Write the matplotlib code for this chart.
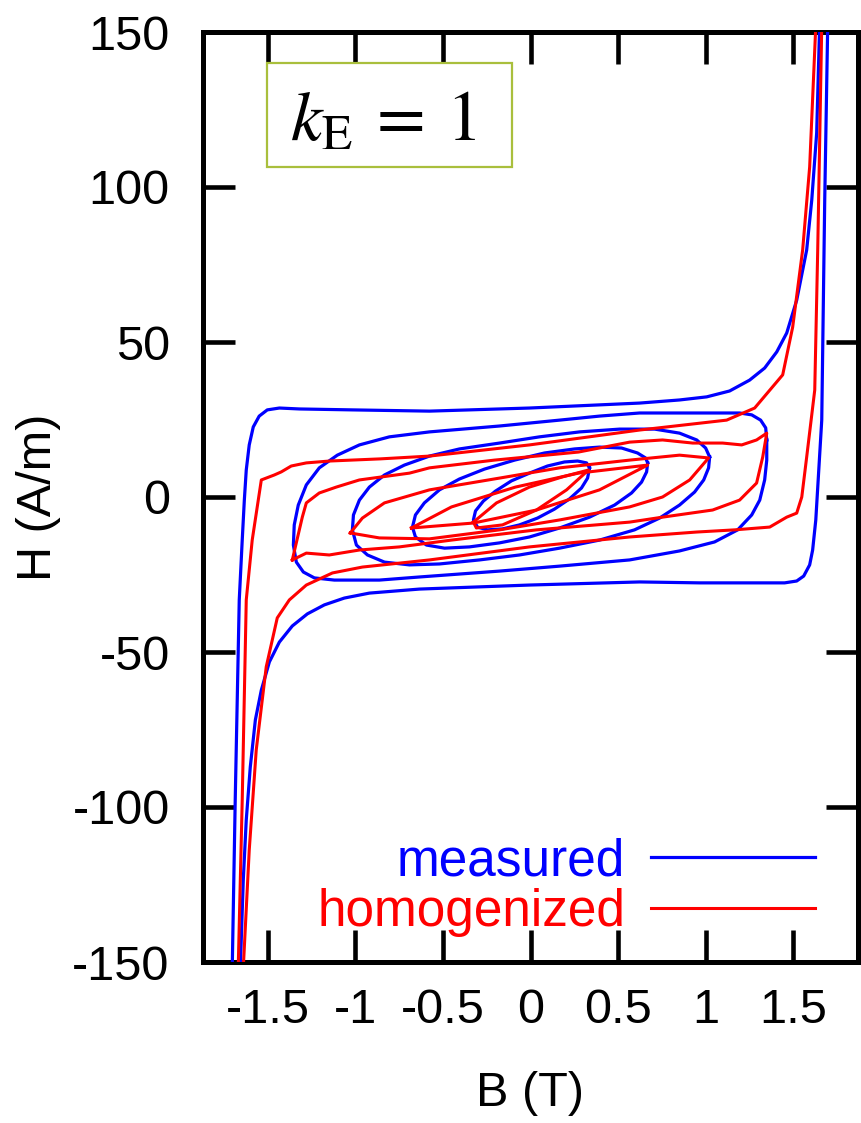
import matplotlib
matplotlib.use("Agg")
import matplotlib.pyplot as plt
from matplotlib.patches import Rectangle

plt.rcParams['font.family'] = ['Liberation Sans', 'DejaVu Sans']
plt.rcParams['mathtext.fontset'] = 'stix'
plt.rcParams['axes.unicode_minus'] = False

# ---------------- data (B in T, H in A/m) ----------------
# measured (blue) loops
meas_major_B = [-1.703, -1.686, -1.663, -1.646, -1.634, -1.623, -1.606, -1.583, -1.549, -1.503, -1.434,
                -1.320, -1.017, -0.577, -0.006, 0.623, 0.851, 1.006, 1.137, 1.251, 1.337, 1.406,
                1.463, 1.520, 1.577, 1.606, 1.634, 1.651,
                1.697, 1.680, 1.663, 1.646, 1.629, 1.611, 1.594, 1.560, 1.520, 1.451, 1.309,
                0.966, 0.623, -0.006, -0.634, -0.920, -1.063, -1.177, -1.274, -1.360, -1.434,
                -1.491, -1.537, -1.571, -1.600, -1.623, -1.640, -1.657]
meas_major_H = [-152.0, -97.7, -33.2, -13.9, -1.0, 8.7, 16.8, 22.6, 26.1, 28.1, 28.7,
                28.4, 28.1, 27.7, 28.7, 30.3, 31.3, 32.3, 34.2, 37.7, 41.6, 46.8,
                52.9, 63.5, 79.7, 95.8, 117.4, 152.0,
                152.0, 95.8, 24.8, 8.7, -7.4, -17.1, -21.9, -25.5, -27.1, -27.7, -27.7,
                -27.7, -27.4, -28.4, -29.7, -31.0, -32.6, -34.8, -37.7, -41.6, -46.8,
                -53.2, -62.3, -71.9, -87.1, -104.2, -123.5, -152.0]

meas_l2_B = [1.349, 1.343, 1.314, 1.263, 1.194, 0.966, 0.623, 0.394, 0.166, -0.177, -0.577,
             -0.806, -0.977, -1.103, -1.206, -1.280, -1.326, -1.349, -1.354, -1.337, -1.297,
             -1.234, -1.120, -0.863, -0.634, -0.177, 0.166, 0.566, 0.851, 1.051, 1.183,
             1.263, 1.309, 1.337, 1.349, 1.349]
meas_l2_H = [18.4, 22.3, 24.8, 26.5, 27.1, 27.1, 27.1, 26.1, 24.8, 22.9, 21.0,
             19.4, 16.8, 13.5, 9.4, 3.9, -2.6, -9.0, -15.5, -21.0, -24.2,
             -26.1, -26.8, -26.8, -25.8, -23.9, -22.3, -20.3, -17.4, -14.5, -10.6,
             -5.8, -1.0, 5.5, 11.9, 18.4]

meas_l3_B = [1.023, 1.017, 0.989, 0.937, 0.851, 0.737, 0.594, 0.394, 0.166, -0.063, -0.291,
             -0.520, -0.691, -0.834, -0.931, -0.994, -1.017, -1.011, -0.977, -0.920, -0.834,
             -0.720, -0.577, -0.406, -0.177, 0.051, 0.280, 0.509, 0.709, 0.851, 0.949,
             1.000, 1.023]
meas_l3_H = [12.9, 9.4, 5.5, 1.6, -2.6, -6.8, -10.6, -13.9, -16.5, -18.7, -20.3,
             -21.6, -21.9, -21.0, -18.7, -15.5, -10.6, -5.8, -1.0, 3.2, 7.1,
             10.3, 13.2, 15.5, 17.4, 19.4, 21.0, 21.9, 21.9, 20.6, 18.4,
             15.8, 12.9]

meas_l4_B = [0.669, 0.663, 0.634, 0.577, 0.480, 0.337, 0.166, -0.006, -0.177, -0.349, -0.491,
             -0.594, -0.657, -0.674, -0.657, -0.606, -0.520, -0.406, -0.263, -0.091, 0.080,
             0.251, 0.394, 0.520, 0.611, 0.657, 0.669]
meas_l4_H = [11.0, 8.1, 4.8, 1.3, -2.6, -6.5, -10.0, -12.9, -14.8, -16.1, -16.5,
             -15.5, -12.9, -9.7, -5.8, -1.9, 2.3, 5.8, 9.0, 11.9, 14.2,
             15.5, 16.1, 15.8, 14.2, 12.6, 11.0]

meas_l5_B = [0.337, 0.326, 0.291, 0.223, 0.137, 0.040, -0.063, -0.160, -0.246, -0.303, -0.326,
             -0.314, -0.269, -0.200, -0.109, -0.006, 0.097, 0.194, 0.269, 0.320, 0.337]
meas_l5_H = [9.4, 6.1, 2.9, -0.6, -3.9, -6.8, -9.0, -10.3, -10.6, -9.7, -7.4,
             -4.5, -1.3, 1.9, 5.2, 7.7, 10.0, 11.3, 11.6, 11.0, 9.4]

# homogenized (red) loops
hom_major_B = [-1.669, -1.646, -1.623, -1.589, -1.537, -1.463, -1.423, -1.366, -1.280, -1.149, -0.857,
               -0.577, -0.006, 0.623, 1.120, 1.280, 1.440, 1.497, 1.554, 1.594, 1.629,
               1.663, 1.640, 1.623, 1.577, 1.549, 1.520, 1.463, 1.366, 1.166, 0.949, 0.566,
               -0.006, -0.577, -0.960, -1.131, -1.280, -1.377, -1.446, -1.509, -1.566, -1.606, -1.640]
hom_major_H = [-152.0, -97.7, -33.2, -13.9, 5.5, 7.1, 8.1, 10.0, 11.0, 11.6, 12.3,
               13.2, 16.8, 21.6, 24.8, 28.7, 39.4, 54.8, 79.7, 106.5, 152.0,
               152.0, 79.7, 34.5, 12.9, 0.0, -5.2, -6.5, -9.7, -10.6, -11.3, -12.9,
               -16.1, -20.3, -22.6, -24.5, -28.4, -33.2, -39.0, -54.8, -81.6, -113.9, -152.0]

hom_l2_B = [-1.360, -1.303, -1.280, -1.206, -1.109, -0.977, -0.691, -0.577, -0.206, 0.274, 0.566,
            0.754, 0.926, 1.097, 1.206, 1.291, 1.349,
            1.326, 1.291, 1.194, 1.040, 0.754, 0.566, 0.034, -0.451, -0.749, -0.977, -1.149,
            -1.280, -1.360]
hom_l2_H = [-20.3, -6.5, -1.9, 1.3, 3.2, 5.5, 7.7, 9.4, 11.9, 14.5, 17.7,
            18.4, 17.4, 17.4, 16.8, 18.4, 20.6,
            12.9, 4.5, -1.0, -4.2, -6.5, -8.1, -10.6, -13.9, -16.1, -17.1, -18.7,
            -18.1, -20.3]

hom_l3_B = [-1.029, -0.960, -0.834, -0.577, -0.177, 0.166, 0.566, 0.851, 1.017,
            0.909, 0.754, 0.566, 0.166, -0.177, -0.577, -0.863, -1.029]
hom_l3_H = [-11.6, -6.8, -1.9, 2.3, 6.1, 9.4, 11.9, 13.5, 12.6,
            5.5, 0.0, -3.2, -7.4, -10.6, -13.5, -13.2, -11.6]

hom_l4_B = [-0.680, -0.451, -0.086, 0.274, 0.669, 0.394, 0.034, -0.326, -0.680]
hom_l4_H = [-10.0, -3.2, 3.2, 7.7, 10.3, 2.3, -4.2, -8.4, -10.0]

hom_l5_B = [-0.326, -0.194, -0.006, 0.183, 0.331, 0.206, 0.034, -0.160, -0.309, -0.326]
hom_l5_H = [-8.1, -1.9, 3.2, 6.5, 8.7, 2.3, -4.2, -9.0, -10.0, -8.1]

x_ticks = [-1.5, -1, -0.5, 0, 0.5, 1, 1.5]
x_tick_labels = ['-1.5', '-1', '-0.5', '0', '0.5', '1', '1.5']
y_ticks = [-150, -100, -50, 0, 50, 100, 150]
y_tick_labels = ['-150', '-100', '-50', '0', '50', '100', '150']

measured = [(meas_major_B, meas_major_H), (meas_l2_B, meas_l2_H), (meas_l3_B, meas_l3_H),
            (meas_l4_B, meas_l4_H), (meas_l5_B, meas_l5_H)]
homogenized = [(hom_major_B, hom_major_H), (hom_l2_B, hom_l2_H), (hom_l3_B, hom_l3_H),
               (hom_l4_B, hom_l4_H), (hom_l5_B, hom_l5_H)]

# ---------------- figure ----------------
fig = plt.figure(figsize=(8.61, 11.23), dpi=100)
ax = fig.add_axes([203/861, 161/1123, 655/861, 930/1123])

for i, (b, h) in enumerate(measured):
    ax.plot(b, h, color='#0000ff', lw=2.3, label='measured' if i == 0 else None, zorder=3,
            solid_joinstyle='round')
for i, (b, h) in enumerate(homogenized):
    ax.plot(b, h, color='#ff0000', lw=2.2, label='homogenized' if i == 0 else None, zorder=4,
            solid_joinstyle='round')

ax.set_xlim(-1.87, 1.87)
ax.set_ylim(-150, 150)
ax.set_xticks(x_ticks)
ax.set_xticklabels(x_tick_labels)
ax.set_yticks(y_ticks)
ax.set_yticklabels(y_tick_labels)
ax.tick_params(direction='in', length=23, width=3.3, top=True, right=True, labelsize=35)
ax.tick_params(axis='x', pad=19)
ax.tick_params(axis='y', pad=24)
for s in ax.spines.values():
    s.set_linewidth(3.6)

ax.set_xlabel('B (T)', fontsize=35, labelpad=27)
ax.set_ylabel('H (A/m)', fontsize=35, labelpad=8)

leg = ax.legend(loc='lower right', bbox_to_anchor=(0.934, 0.027), frameon=False, fontsize=37,
                markerfirst=False, handlelength=3.19, handletextpad=0.5, labelspacing=0.03,
                labelcolor='linecolor', borderpad=0, borderaxespad=0)

box = Rectangle((0.0977, 0.8548), 0.3741, 0.1118, transform=ax.transAxes,
                facecolor='white', edgecolor='#a9bf3c', lw=1.6, zorder=6)
ax.add_patch(box)
ax.text(0.2748, 0.8828, r'$k_\mathrm{E}\:=\:1$', transform=ax.transAxes, fontsize=51,
        ha='center', va='baseline', zorder=7)

fig.savefig('out.png', dpi=100)
